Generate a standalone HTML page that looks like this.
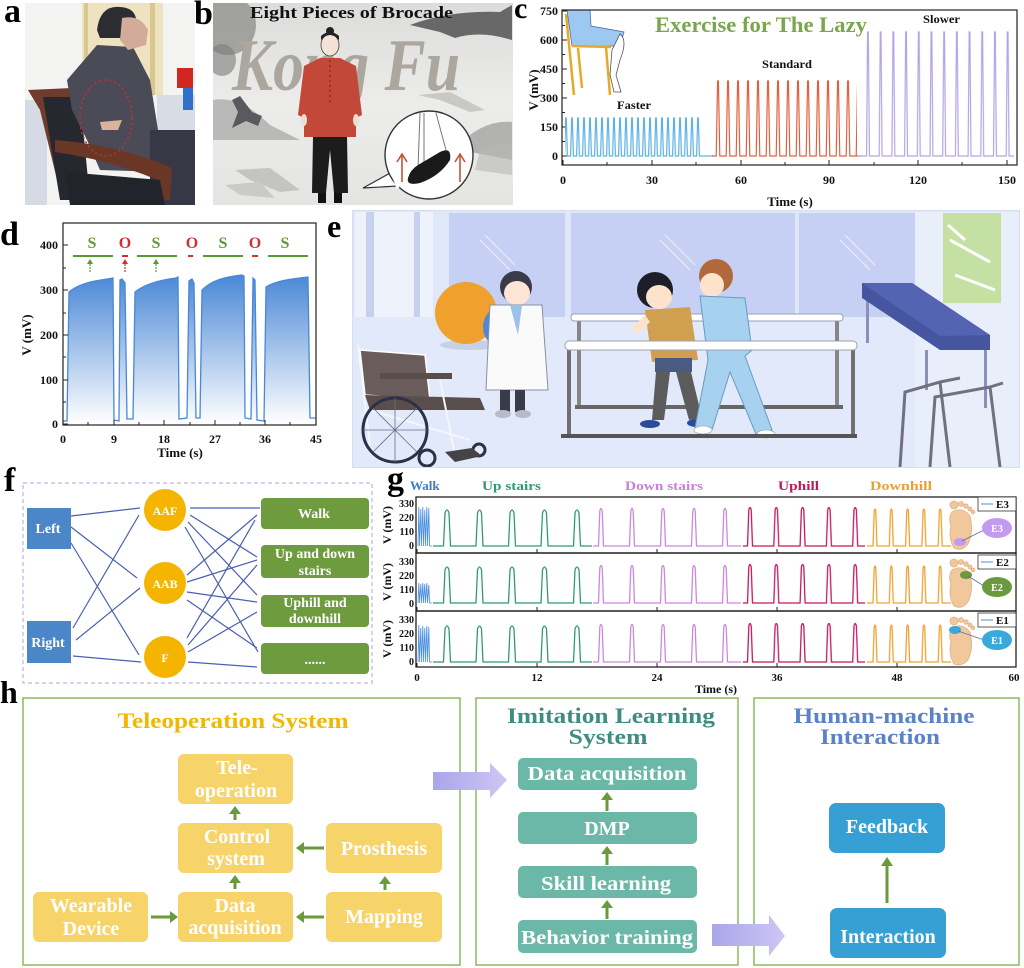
<!DOCTYPE html>
<html><head><meta charset="utf-8"><style>
html,body{margin:0;padding:0;background:#fff;}
svg{display:block;}
text{font-family:"Liberation Serif","DejaVu Serif",serif;font-weight:bold;}
</style></head><body>
<svg width="1024" height="968" viewBox="0 0 1024 968" xmlns="http://www.w3.org/2000/svg">
<defs>
<clipPath id="ca"><rect x="25" y="3" width="170" height="202"/></clipPath>
<clipPath id="cb"><rect x="213" y="3" width="300" height="202"/></clipPath>
<clipPath id="ce"><rect x="352" y="210" width="668" height="258"/></clipPath>
<linearGradient id="gd" x1="0" y1="275" x2="0" y2="424" gradientUnits="userSpaceOnUse"><stop offset="0" stop-color="#4a88d6"/><stop offset="1" stop-color="#ffffff"/></linearGradient>
<linearGradient id="lav" x1="0" y1="0" x2="1" y2="0"><stop offset="0" stop-color="#a9a6ea"/><stop offset="1" stop-color="#cfc6f4"/></linearGradient>
<linearGradient id="bbg" x1="0" y1="0" x2="0" y2="1"><stop offset="0" stop-color="#dcdcda"/><stop offset="0.5" stop-color="#ececea"/><stop offset="1" stop-color="#e4e4e2"/></linearGradient>
<pattern id="pf" patternUnits="userSpaceOnUse" x="569" y="0" width="6" height="200"><path d="M0,156 L1.6,156 L2.7,118 L3.3,118 L4.4,156 L6,156" fill="none" stroke="#5ab2e8" stroke-width="1.2"/></pattern>
<pattern id="ps" patternUnits="userSpaceOnUse" x="713" y="0" width="10" height="200"><path d="M0,156 L3.2,156 L4.6,81 L5.4,81 L6.8,156 L10,156" fill="none" stroke="#e2603e" stroke-width="1.2"/></pattern>
<pattern id="pl" patternUnits="userSpaceOnUse" x="861.6" y="0" width="12.7" height="200"><path d="M0,156 L4.9,156 L6,32 L6.7,32 L7.8,156 L12.7,156" fill="none" stroke="#b4a4e6" stroke-width="1.2"/></pattern>
<pattern id="gup" patternUnits="userSpaceOnUse" x="436.5" y="0" width="32.5" height="46"><path d="M0,42 L7,42 L8.5,9 Q10.5,3 12.5,9 L14,42 L32.5,42" fill="none" stroke="#2f9a76" stroke-width="1.3"/></pattern>
<pattern id="gdown" patternUnits="userSpaceOnUse" x="592.5" y="0" width="31" height="46"><path d="M0,42 L6,42 L7.3,7 Q8.5,2 9.7,7 L11,42 L31,42" fill="none" stroke="#cc88dc" stroke-width="1.3"/></pattern>
<pattern id="guph" patternUnits="userSpaceOnUse" x="741.5" y="0" width="26.3" height="46"><path d="M0,42 L6,42 L7.3,6 Q8.5,1 9.7,6 L11,42 L26.3,42" fill="none" stroke="#c4185c" stroke-width="1.3"/></pattern>
<pattern id="gdnh" patternUnits="userSpaceOnUse" x="868" y="0" width="16.3" height="46"><path d="M0,42 L5,42 L6.2,7 Q7,3 7.8,7 L9,42 L16.3,42" fill="none" stroke="#f0a232" stroke-width="1.3"/></pattern>
</defs>
<rect width="1024" height="968" fill="#fff"/>

<!-- panel labels -->
<text x="4" y="22" font-size="34">a</text>
<text x="194" y="24" font-size="34">b</text>
<text x="514" y="18" font-size="30">c</text>
<text x="0" y="245" font-size="34">d</text>
<text x="327" y="237" font-size="32">e</text>
<text x="4" y="491" font-size="34">f</text>
<text x="387" y="490" font-size="34">g</text>
<text x="0" y="703" font-size="32">h</text>

<!-- PANEL A photo -->
<g clip-path="url(#ca)">
<rect x="25" y="3" width="170" height="202" fill="#f3f3f2"/>
<rect x="25" y="100" width="22" height="105" fill="#d6dae4"/>
<rect x="82" y="3" width="81" height="92" fill="#eee3c0"/>
<rect x="84" y="3" width="4" height="92" fill="#d8c890"/>
<rect x="150" y="3" width="5" height="92" fill="#d8c890"/>
<rect x="157" y="95" width="38" height="40" fill="#d8dce4"/>
<rect x="177" y="68" width="16" height="20" fill="#d02820"/>
<rect x="183" y="88" width="10" height="22" fill="#3070c8"/>
<path d="M28,90 L72,88 L85,96 L80,200 L62,200 L40,110 Z" fill="#6e3b2c"/>
<path d="M43,97 L80,97 L90,200 L60,200 Z" fill="#262830"/>
<path d="M133,47 L97,45 L67,80 L72,110 L87,140 L100,170 L160,172 L158,130 L150,80 Z" fill="#4a4b57"/>
<path d="M150,130 L195,130 L195,205 L150,205 Z" fill="#363845"/>
<path d="M97,30 Q100,5 120,7 Q138,8 136,25 L125,38 L100,38 Z" fill="#2c2c32"/>
<path d="M122,18 Q140,14 148,30 L146,45 L128,50 L120,40 Z" fill="#d2ab9a"/>
<path d="M100,122 L122,120 L118,130 L102,130 Z" fill="#d8b49a"/>
<path d="M55,140 Q120,145 172,168 L170,200 L160,200 L158,180 Q110,160 55,152 Z" fill="#6a3626"/>
<path d="M65,172 L160,180 L165,205 L70,205 Z" fill="#22242c"/>
<ellipse cx="106" cy="118" rx="26" ry="38" fill="none" stroke="#c83030" stroke-width="1.5" stroke-dasharray="2,3"/>
</g>

<!-- PANEL B -->
<g clip-path="url(#cb)">
<rect x="213" y="3" width="300" height="202" fill="url(#bbg)"/>
<ellipse cx="228" cy="25" rx="28" ry="30" fill="#8c8c8a" opacity="0.75"/>
<ellipse cx="222" cy="60" rx="14" ry="16" fill="#7c7c7a" opacity="0.6"/>
<path d="M213,100 Q240,95 270,125 L300,140 L213,140 Z" fill="#a4a4a2" opacity="0.7"/>
<path d="M232,100 L240,96 L246,104 L252,112 L262,116 L258,126 L246,121 L232,128 L238,112 Z" fill="#5a5a5e"/>
<path d="M410,25 Q450,10 500,12 L512,5 L512,40 Q480,30 455,38 L440,32 Z" fill="#4a4a4a" opacity="0.8"/>
<path d="M470,135 Q490,120 512,122 L512,160 L460,150 Z" fill="#9a9a98" opacity="0.7"/>
<path d="M480,150 Q500,140 512,145 L512,175 L475,170 Z" fill="#b8b8b6" opacity="0.6"/>
<path d="M418,95 L450,92 L485,110 L470,112 L440,100 Z" fill="#c8c8c6"/>
<path d="M235,170 L270,168 L300,190 L280,192 L250,180 Z" fill="#c4c4c2"/>
<path d="M225,185 L260,182 L275,198 L240,195 Z" fill="#cacac8"/>
<text x="232" y="90" font-size="74" font-style="italic" fill="#aba79f" textLength="228" lengthAdjust="spacingAndGlyphs">Kong Fu</text>
<text x="250" y="18" font-size="17" fill="#111" textLength="203" lengthAdjust="spacingAndGlyphs">Eight Pieces of Brocade</text>
<!-- figure -->
<circle cx="330" cy="31" r="4" fill="#222"/>
<ellipse cx="330" cy="45" rx="9" ry="11" fill="#f3e3d6" stroke="#444" stroke-width="0.8"/>
<path d="M321,40 Q330,30 339,40 L339,36 Q330,28 321,36 Z" fill="#222"/>
<path d="M320,58 L340,58 L356,66 L362,115 L356,118 L356,137 L304,137 L304,118 L298,115 L304,66 Z" fill="#c2493a"/>
<line x1="330" y1="60" x2="330" y2="105" stroke="#6a2018" stroke-width="1" stroke-dasharray="2,3"/>
<path d="M313,137 L347,137 L348,193 L334,193 L330,150 L326,193 L312,193 Z" fill="#1c1c1c"/>
<rect x="318" y="193" width="8" height="10" fill="#111"/>
<rect x="334" y="193" width="8" height="10" fill="#111"/>
<ellipse cx="304" cy="120" rx="3" ry="6" fill="#f0dcd0"/>
<ellipse cx="356" cy="120" rx="3" ry="6" fill="#f0dcd0"/>
<!-- inset -->
<path d="M363,188 L392,172 L398,186 Z" fill="#fff" stroke="#333" stroke-width="1.2"/>
<circle cx="429" cy="155" r="44" fill="#fff" stroke="#333" stroke-width="1.4"/>
<path d="M398,188 L392,172" stroke="#fff" stroke-width="3"/>
<path d="M424,113 L424,165 M436,113 L446,150 M420,113 L418,168" stroke="#777" stroke-width="1" fill="none"/>
<path d="M418,165 L440,152 Q452,146 450,160 Q440,176 420,183 Q406,186 408,178 Q410,170 418,165 Z" fill="#1a1a1a"/>
<path d="M402,182 L402,155 M397,162 L402,154 L407,162" stroke="#c8503c" stroke-width="1.6" fill="none"/>
<path d="M460,182 L460,155 M455,162 L460,154 L465,162" stroke="#c8503c" stroke-width="1.6" fill="none"/>
</g>

<!-- PANEL C -->
<g>
<path d="M567,10 L590,10 L591,26 L624,32 L620,46 L572,46 Z" fill="#9cc8f2" stroke="#4a70a0" stroke-width="0.8"/>
<path d="M620,34 Q628,40 620,60 L616,75 L621,92 L614,92 L610,75 L612,50 Z" fill="#fff" stroke="#555" stroke-width="0.8"/>
<path d="M566,14 L574,95 M572,46 L611,47 M606,47 L610,95 M578,48 L582,88" stroke="#e6a92a" stroke-width="2.5" fill="none"/>
<rect x="562" y="10" width="455" height="155" fill="none" stroke="#222" stroke-width="1.2"/>
<g stroke="#222" stroke-width="1">
<path d="M562,11 h5 M562,40 h5 M562,69 h5 M562,98 h5 M562,127 h5 M562,156 h5 M562,25.5 h3 M562,54.5 h3 M562,83.5 h3 M562,112.5 h3 M562,141.5 h3"/>
<path d="M563,165 v-5 M652,165 v-5 M741,165 v-5 M829,165 v-5 M918,165 v-5 M1007,165 v-5 M607,165 v-3 M696,165 v-3 M785,165 v-3 M874,165 v-3 M962,165 v-3"/>
</g>
<g font-size="12" text-anchor="end" fill="#111">
<text x="558" y="15">750</text><text x="558" y="44">600</text><text x="558" y="73">450</text><text x="558" y="102">300</text><text x="558" y="131">150</text><text x="558" y="160">0</text>
</g>
<text transform="translate(538,90) rotate(-90)" font-size="13" text-anchor="middle" fill="#111">V (mV)</text>
<g font-size="12" text-anchor="middle" fill="#111">
<text x="563" y="184">0</text><text x="652" y="184">30</text><text x="741" y="184">60</text><text x="829" y="184">90</text><text x="918" y="184">120</text><text x="1007" y="184">150</text>
</g>
<text x="790" y="206" font-size="13" text-anchor="middle" fill="#111">Time (s)</text>
<rect x="565" y="110" width="137" height="50" fill="url(#pf)"/>
<path d="M702,156 L713,156" stroke="#5ab2e8" stroke-width="1.2"/>
<rect x="712" y="75" width="145" height="85" fill="url(#ps)"/>
<path d="M856,156 L862,156" stroke="#e2603e" stroke-width="1.2"/>
<rect x="858" y="25" width="156" height="135" fill="url(#pl)"/>
<text x="655" y="32" font-size="22" fill="#7aa64e" textLength="212" lengthAdjust="spacingAndGlyphs">Exercise for The Lazy</text>
<text x="762" y="68" font-size="12" fill="#111" textLength="50" lengthAdjust="spacingAndGlyphs">Standard</text>
<text x="617" y="109" font-size="12" fill="#111" textLength="34" lengthAdjust="spacingAndGlyphs">Faster</text>
<text x="923" y="23" font-size="12" fill="#111" textLength="37" lengthAdjust="spacingAndGlyphs">Slower</text>
</g>

<!-- PANEL D -->
<g>
<path d="M63,424 L63,421 L67,421 L69,292 C75,287 85,283 95,281 L113,278 L114,420 L119,421 L120,280 L122,279 L125,283 L127,419 L133,419 L135,292 C145,284 160,280 176,278 L178,277 L179,419 L187,418 L189,281 L192,279 L194,283 L196,418 L200,418 L202,290 C212,280 225,277 242,275 L244,276 L245,418 L251,419 L253,278 L255,280 L257,420 L264,421 L266,287 C275,281 290,279 308,277 L310,418 L316,418 L316,424 Z" fill="url(#gd)"/>
<path d="M63,421 L67,421 L69,292 C75,287 85,283 95,281 L113,278 L114,420 L119,421 L120,280 L122,279 L125,283 L127,419 L133,419 L135,292 C145,284 160,280 176,278 L178,277 L179,419 L187,418 L189,281 L192,279 L194,283 L196,418 L200,418 L202,290 C212,280 225,277 242,275 L244,276 L245,418 L251,419 L253,278 L255,280 L257,420 L264,421 L266,287 C275,281 290,279 308,277 L310,418 L316,418" fill="none" stroke="#4a88d6" stroke-width="1.3"/>
<rect x="63" y="223" width="253" height="202" fill="none" stroke="#222" stroke-width="1.2"/>
<g stroke="#222" stroke-width="1">
<path d="M63,245 h5 M63,290 h5 M63,335 h5 M63,380 h5 M63,424 h5 M63,268 h3 M63,313 h3 M63,357 h3 M63,402 h3"/>
<path d="M63,425 v-5 M114,425 v-5 M164,425 v-5 M215,425 v-5 M265,425 v-5 M316,425 v-5 M88,425 v-3 M139,425 v-3 M190,425 v-3 M240,425 v-3 M290,425 v-3"/>
</g>
<g font-size="12" text-anchor="end" fill="#111">
<text x="58" y="249">400</text><text x="58" y="294">300</text><text x="58" y="339">200</text><text x="58" y="384">100</text><text x="58" y="428">0</text>
</g>
<text transform="translate(31,335) rotate(-90)" font-size="13" text-anchor="middle" fill="#111">V (mV)</text>
<g font-size="12" text-anchor="middle" fill="#111">
<text x="63" y="443">0</text><text x="114" y="443">9</text><text x="164" y="443">18</text><text x="215" y="443">27</text><text x="265" y="443">36</text><text x="316" y="443">45</text>
</g>
<text x="180" y="457" font-size="13" text-anchor="middle" fill="#111">Time (s)</text>
<g font-size="16" text-anchor="middle">
<text x="92" y="248" fill="#5a9a30">S</text><text x="125" y="248" fill="#d03030">O</text><text x="156" y="248" fill="#5a9a30">S</text><text x="192" y="248" fill="#d03030">O</text><text x="223" y="248" fill="#5a9a30">S</text><text x="255" y="248" fill="#d03030">O</text><text x="285" y="248" fill="#5a9a30">S</text>
</g>
<g stroke-width="2">
<path d="M73,256 H113 M137,256 H177 M203,256 H243 M268,256 H308" stroke="#5a9a30"/>
<path d="M122,256 H128 M188,256 H193 M252,256 H258" stroke="#d03030"/>
</g>
<path d="M90,272 V262" stroke="#5a9a30" stroke-width="1.2" stroke-dasharray="2,1"/><path d="M87,264 L90,259 L93,264 Z" fill="#5a9a30"/>
<path d="M125,272 V262" stroke="#d03030" stroke-width="1.2" stroke-dasharray="2,1"/><path d="M122,264 L125,259 L128,264 Z" fill="#d03030"/>
<path d="M156,272 V262" stroke="#5a9a30" stroke-width="1.2" stroke-dasharray="2,1"/><path d="M153,264 L156,259 L159,264 Z" fill="#5a9a30"/>
</g>

<!-- PANEL E -->
<g clip-path="url(#ce)">
<rect x="352" y="210" width="668" height="258" fill="#dfe7f8"/>
<rect x="355" y="212" width="78" height="190" fill="#eef2fb"/>
<rect x="366" y="212" width="8" height="175" fill="#c6d1f0"/>
<rect x="414" y="212" width="6" height="165" fill="#c6d1f0"/>
<rect x="449" y="213" width="116" height="104" fill="#c6cff4"/>
<rect x="571" y="213" width="224" height="104" fill="#c6cff4"/>
<rect x="799" y="213" width="116" height="104" fill="#c6cff4"/>
<path d="M480,240 L510,270 M485,235 L515,265 M660,240 L690,270 M665,235 L695,265 M840,240 L870,270 M845,235 L875,265" stroke="#eef1fc" stroke-width="1"/>
<rect x="915" y="212" width="105" height="256" fill="#e9eefb"/>
<rect x="943" y="213" width="58" height="90" fill="#c4e0a2"/>
<path d="M950,240 L990,262 M948,225 L965,240 M955,275 L995,290" stroke="#fff" stroke-width="3"/>
<rect x="352" y="317" width="563" height="151" fill="#e1e9fa"/>
<ellipse cx="470" cy="345" rx="30" ry="5" fill="#c8d0e6"/>
<circle cx="466" cy="313" r="31" fill="#f0a02c"/>
<circle cx="505" cy="327" r="22" fill="#4a8ad8"/>
<circle cx="516" cy="287" r="16" fill="#3a3a4a"/>
<ellipse cx="517" cy="293" rx="13" ry="12" fill="#fde6d6"/>
<path d="M490,305 L542,305 L548,390 L486,390 Z" fill="#fafafa" stroke="#8a90a0" stroke-width="1"/>
<path d="M510,305 L522,305 L518,335 Z" fill="#9cc2ea"/>
<rect x="500" y="390" width="10" height="22" fill="#3a3a48"/>
<rect x="515" y="390" width="10" height="22" fill="#3a3a48"/>
<ellipse cx="503" cy="414" rx="8" ry="4" fill="#b8bcc8"/>
<ellipse cx="523" cy="414" rx="8" ry="4" fill="#b8bcc8"/>
<path d="M360,350 L425,355 L430,400 L365,395 Z" fill="#6a5c5a" stroke="#fff" stroke-width="1.5"/>
<path d="M365,395 L480,398 L485,410 L370,410 Z" fill="#5a4e4c"/>
<rect x="380" y="373" width="72" height="6" fill="#5a4e4c"/>
<path d="M358,345 L370,445 M440,380 L455,455 M370,410 L470,440" stroke="#f4f6fb" stroke-width="2" fill="none"/>
<circle cx="395" cy="430" r="32" fill="none" stroke="#2c3048" stroke-width="3"/>
<path d="M395,398 V462 M363,430 H427 M373,408 L417,452 M417,408 L373,452" stroke="#6a6e88" stroke-width="0.8"/>
<circle cx="427" cy="458" r="8" fill="none" stroke="#2c3048" stroke-width="3"/>
<circle cx="479" cy="450" r="6" fill="none" stroke="#2c3048" stroke-width="3"/>
<path d="M445,452 L472,448 L482,456 L455,462 Z" fill="#444"/>
<rect x="577" y="320" width="4" height="88" fill="#858585"/>
<rect x="835" y="320" width="4" height="88" fill="#858585"/>
<rect x="575" y="405" width="268" height="4" fill="#666"/>
<rect x="571" y="314" width="272" height="7" rx="3" fill="#fff" stroke="#9aa0b0" stroke-width="1"/>
<circle cx="655" cy="290" r="18" fill="#1e1e28"/>
<ellipse cx="659" cy="297" rx="13" ry="12" fill="#fde2cc"/>
<path d="M645,310 L690,307 L698,360 L652,362 Z" fill="#d0a050"/>
<path d="M645,315 L630,330 L638,334 L650,322 Z" fill="#fde2cc"/>
<rect x="655" y="358" width="37" height="14" fill="#4a5a80"/>
<path d="M656,372 L670,372 L664,420 L652,420 Z" fill="#5c5c5c"/>
<path d="M676,372 L691,372 L702,418 L689,420 Z" fill="#5c5c5c"/>
<ellipse cx="650" cy="424" rx="10" ry="4" fill="#2a4a9a"/>
<ellipse cx="697" cy="423" rx="10" ry="4" fill="#2a4a9a"/>
<circle cx="716" cy="276" r="17" fill="#b0683c"/>
<ellipse cx="712" cy="285" rx="12" ry="12" fill="#fde2cc"/>
<path d="M700,296 L745,298 L752,350 L745,356 L772,430 L756,434 L730,372 L712,430 L695,428 L708,360 Z" fill="#a6d2f0" stroke="#6a9ac0" stroke-width="1"/>
<ellipse cx="703" cy="430" rx="9" ry="4" fill="#fff" stroke="#999" stroke-width="0.6"/>
<ellipse cx="766" cy="434" rx="9" ry="4" fill="#fff" stroke="#999" stroke-width="0.6"/>
<rect x="567" y="348" width="4" height="88" fill="#707070"/>
<rect x="851" y="348" width="4" height="88" fill="#707070"/>
<rect x="561" y="434" width="296" height="4" fill="#555"/>
<rect x="565" y="341" width="292" height="9" rx="4" fill="#fff" stroke="#9aa0b0" stroke-width="1"/>
<rect x="866" y="298" width="3" height="45" fill="#8a90b8"/>
<rect x="925" y="350" width="3" height="40" fill="#8a90b8"/>
<rect x="984" y="350" width="3" height="58" fill="#8a90b8"/>
<path d="M862,283 L912,283 L990,335 L990,350 L940,350 L862,298 Z" fill="#46559f"/>
<path d="M862,283 L912,283 L990,335 L940,336 Z" fill="#5464b2"/>
<path d="M900,467 L905,392 L940,382 L950,467 M930,467 L935,397 L990,387 L1000,467 M940,382 L960,378 M990,387 L1003,383" stroke="#70707e" stroke-width="3" fill="none"/>
</g>
<rect x="352.5" y="210.5" width="667" height="257" fill="none" stroke="#d6def2" stroke-width="1"/>

<!-- PANEL F -->
<rect x="23" y="483" width="349" height="200" fill="none" stroke="#b0a0dc" stroke-width="1" stroke-dasharray="4,3"/>
<g stroke="#4a5fb0" stroke-width="1.2">
<path d="M71,516 L140,508 M71,527 L137,578 M71,543 L139,655 M73,628 L139,515 M76,640 L140,588 M73,656 L141,662"/>
<path d="M190,508 L260,508 M190,515 L257,557 M188,522 L257,595 M185,527 L258,652"/>
<path d="M187,575 L257,515 M187,582 L257,560 M187,592 L257,602 M187,600 L257,648"/>
<path d="M187,638 L255,520 M188,645 L257,565 M188,652 L257,612 M188,662 L257,667"/>
</g>
<rect x="27" y="508" width="44" height="41" fill="#4a86c8"/>
<rect x="27" y="621" width="44" height="42" fill="#4a86c8"/>
<circle cx="165" cy="510" r="21" fill="#f5b400"/>
<circle cx="165" cy="583" r="21" fill="#f5b400"/>
<circle cx="165" cy="657" r="21" fill="#f5b400"/>
<rect x="261" y="498" width="108" height="31" rx="4" fill="#6f9b3f"/>
<rect x="261" y="545" width="108" height="33" rx="4" fill="#6f9b3f"/>
<rect x="261" y="595" width="108" height="32" rx="4" fill="#6f9b3f"/>
<rect x="261" y="643" width="108" height="31" rx="4" fill="#6f9b3f"/>
<g fill="#fff" font-size="14" text-anchor="middle">
<text x="48" y="533">Left</text>
<text x="48" y="647">Right</text>
<text x="165" y="515" font-size="12">AAF</text>
<text x="165" y="588" font-size="12">AAB</text>
<text x="165" y="662" font-size="12">F</text>
<text x="314" y="518">Walk</text>
<text x="315" y="558">Up and down</text>
<text x="315" y="575">stairs</text>
<text x="315" y="607">Uphill and</text>
<text x="315" y="623">downhill</text>
<text x="315" y="664">......</text>
</g>

<!-- PANEL G -->
<g font-size="13">
<text x="410" y="490" fill="#3a7cc8">Walk</text>
<text x="482" y="490" fill="#2e9a6e" textLength="59" lengthAdjust="spacingAndGlyphs">Up stairs</text>
<text x="625" y="490" fill="#c483d8" textLength="78" lengthAdjust="spacingAndGlyphs">Down stairs</text>
<text x="778" y="490" fill="#c0185a" textLength="41" lengthAdjust="spacingAndGlyphs">Uphill</text>
<text x="870" y="490" fill="#eaa032" textLength="62" lengthAdjust="spacingAndGlyphs">Downhill</text>
</g>
<g transform="translate(0,504)">
<path d="M418,42 L418.8,3 L419.6,42 L420.8,5 L421.6,42 L422.8,3 L423.6,42 L424.8,6 L425.6,42 L426.8,3 L427.6,42 L428.8,4 L429.6,42 L432,42" fill="none" stroke="#4a8ee0" stroke-width="0.8"/>
<rect x="433" y="0" width="159" height="45" fill="url(#gup)"/>
<rect x="593" y="0" width="148" height="45" fill="url(#gdown)"/>
<rect x="743" y="0" width="122" height="45" fill="url(#guph)"/>
<rect x="867" y="0" width="84" height="45" fill="url(#gdnh)"/>
</g>
<g transform="translate(0,561)">
<path d="M418,42 L418.8,22 L419.6,42 L420.8,23 L421.6,42 L422.8,22 L423.6,42 L424.8,23 L425.6,42 L426.8,22 L427.6,42 L428.8,24 L429.6,42 L432,42" fill="none" stroke="#4a8ee0" stroke-width="0.8"/>
<rect x="433" y="0" width="159" height="45" fill="url(#gup)"/>
<rect x="593" y="0" width="148" height="45" fill="url(#gdown)"/>
<rect x="743" y="0" width="122" height="45" fill="url(#guph)"/>
<rect x="867" y="0" width="84" height="45" fill="url(#gdnh)"/>
</g>
<g transform="translate(0,620)">
<path d="M418,42 L418.8,5 L419.6,42 L420.8,8 L421.6,42 L422.8,6 L423.6,42 L424.8,8 L425.6,42 L426.8,6 L427.6,42 L428.8,7 L429.6,42 L432,42" fill="none" stroke="#4a8ee0" stroke-width="0.8"/>
<rect x="433" y="0" width="159" height="45" fill="url(#gup)"/>
<rect x="593" y="0" width="148" height="45" fill="url(#gdown)"/>
<rect x="743" y="0" width="122" height="45" fill="url(#guph)"/>
<rect x="867" y="0" width="84" height="45" fill="url(#gdnh)"/>
</g>
<g fill="none" stroke="#222" stroke-width="1.3">
<rect x="416" y="497" width="600" height="56"/>
<rect x="416" y="553" width="600" height="58"/>
<rect x="416" y="611" width="600" height="56"/>
</g>
<g stroke="#222" stroke-width="1">
<path d="M417,667 v-4 M537,667 v-4 M657,667 v-4 M777,667 v-4 M897,667 v-4 M417,553 v-4 M537,553 v-4 M657,553 v-4 M777,553 v-4 M897,553 v-4 M417,611 v-4 M537,611 v-4 M657,611 v-4 M777,611 v-4 M897,611 v-4"/>
</g>
<g font-size="10" text-anchor="end" fill="#111">
<text x="414" y="507">330</text><text x="414" y="521">220</text><text x="414" y="535">110</text><text x="414" y="549">0</text>
<text x="414" y="565">330</text><text x="414" y="579">220</text><text x="414" y="593">110</text><text x="414" y="607">0</text>
<text x="414" y="623">330</text><text x="414" y="637">220</text><text x="414" y="651">110</text><text x="414" y="665">0</text>
</g>
<g font-size="12" text-anchor="middle" fill="#111">
<text transform="translate(391,525) rotate(-90)">V (mV)</text>
<text transform="translate(391,582) rotate(-90)">V (mV)</text>
<text transform="translate(391,639) rotate(-90)">V (mV)</text>
</g>
<g font-size="11" text-anchor="middle" fill="#111">
<text x="417" y="681">0</text><text x="537" y="681">12</text><text x="657" y="681">24</text><text x="777" y="681">36</text><text x="897" y="681">48</text><text x="1014" y="681">60</text>
</g>
<text x="716" y="693" font-size="12" text-anchor="middle" fill="#111">Time (s)</text>
<g fill="#f0c89c" stroke="#e2b080" stroke-width="0.8">
<path d="M952,512 Q962,506 970,516 Q974,532 968,544 Q962,552 954,548 Q948,538 951,526 Q948,518 952,512 Z"/>
<circle cx="954" cy="505" r="4"/><circle cx="961" cy="504" r="2.5"/><circle cx="966" cy="506" r="2.2"/><circle cx="970" cy="509" r="2"/><circle cx="973" cy="512" r="1.8"/>
<path d="M952,570 Q962,564 970,574 Q974,590 968,602 Q962,610 954,606 Q948,596 951,584 Q948,576 952,570 Z"/>
<circle cx="954" cy="563" r="4"/><circle cx="961" cy="562" r="2.5"/><circle cx="966" cy="564" r="2.2"/><circle cx="970" cy="567" r="2"/><circle cx="973" cy="570" r="1.8"/>
<path d="M952,628 Q962,622 970,632 Q974,648 968,660 Q962,667 954,664 Q948,654 951,642 Q948,634 952,628 Z"/>
<circle cx="954" cy="621" r="4"/><circle cx="961" cy="620" r="2.5"/><circle cx="966" cy="622" r="2.2"/><circle cx="970" cy="625" r="2"/><circle cx="973" cy="628" r="1.8"/>
</g>
<ellipse cx="960" cy="542" rx="6" ry="4" fill="#c49af0"/>
<ellipse cx="966" cy="575" rx="6" ry="4" fill="#6a9a3c"/>
<ellipse cx="955" cy="630" rx="6" ry="4" fill="#3aa8d8"/>
<path d="M962,541 L984,530 M968,576 L984,586 M958,631 L984,640" stroke="#6070a0" stroke-width="0.8"/>
<ellipse cx="997" cy="528" rx="15" ry="10" fill="#c49af0"/>
<ellipse cx="997" cy="587" rx="15" ry="10" fill="#6a9a3c"/>
<ellipse cx="997" cy="640" rx="15" ry="10" fill="#3aa8d8"/>
<g font-size="10" fill="#fff" text-anchor="middle" font-weight="normal">
<text x="997" y="532">E3</text><text x="997" y="591">E2</text><text x="997" y="644">E1</text>
</g>
<g fill="#fff" stroke="#333" stroke-width="0.8">
<rect x="978" y="497" width="38" height="14"/>
<rect x="978" y="555" width="38" height="14"/>
<rect x="978" y="613" width="38" height="14"/>
</g>
<path d="M981,504 H993 M981,562 H993 M981,620 H993" stroke="#6aa8e0" stroke-width="1.2"/>
<g font-size="11" fill="#111">
<text x="996" y="508">E3</text><text x="996" y="566">E2</text><text x="996" y="624">E1</text>
</g>

<!-- PANEL H -->
<g fill="none" stroke="#8fb85e" stroke-width="1.5">
<rect x="23" y="698" width="437" height="267"/>
<rect x="476" y="698" width="262" height="267"/>
<rect x="754" y="698" width="265" height="267"/>
</g>
<text x="233" y="728" font-size="22" fill="#f0b800" text-anchor="middle" textLength="231" lengthAdjust="spacingAndGlyphs">Teleoperation System</text>
<text x="611" y="723" font-size="22" fill="#3f8c80" text-anchor="middle" textLength="208" lengthAdjust="spacingAndGlyphs">Imitation Learning</text>
<text x="608" y="744" font-size="22" fill="#3f8c80" text-anchor="middle" textLength="79" lengthAdjust="spacingAndGlyphs">System</text>
<text x="884" y="723" font-size="22" fill="#5a82c8" text-anchor="middle" textLength="181" lengthAdjust="spacingAndGlyphs">Human-machine</text>
<text x="880" y="744" font-size="22" fill="#5a82c8" text-anchor="middle" textLength="120" lengthAdjust="spacingAndGlyphs">Interaction</text>
<g fill="#f7d46a">
<rect x="178" y="754" width="115" height="50" rx="6"/>
<rect x="178" y="823" width="115" height="50" rx="6"/>
<rect x="178" y="892" width="115" height="50" rx="6"/>
<rect x="33" y="892" width="115" height="50" rx="6"/>
<rect x="326" y="823" width="116" height="50" rx="6"/>
<rect x="326" y="892" width="116" height="50" rx="6"/>
</g>
<g fill="#fff" font-size="20" text-anchor="middle">
<text x="237" y="774">Tele-</text>
<text x="236" y="797">operation</text>
<text x="237" y="843">Control</text>
<text x="236" y="865">system</text>
<text x="235" y="912">Data</text>
<text x="235" y="934">acquisition</text>
<text x="91" y="912">Wearable</text>
<text x="91" y="935">Device</text>
<text x="384" y="855">Prosthesis</text>
<text x="384" y="923">Mapping</text>
</g>
<g fill="#6cb8a8">
<rect x="518" y="758" width="179" height="32" rx="5"/>
<rect x="518" y="812" width="179" height="32" rx="5"/>
<rect x="518" y="866" width="179" height="32" rx="5"/>
<rect x="518" y="920" width="179" height="33" rx="5"/>
</g>
<g fill="#fff" font-size="20" text-anchor="middle">
<text x="607" y="780" textLength="159" lengthAdjust="spacingAndGlyphs">Data acquisition</text>
<text x="607" y="835">DMP</text>
<text x="606" y="890" textLength="130" lengthAdjust="spacingAndGlyphs">Skill learning</text>
<text x="607" y="944" textLength="172" lengthAdjust="spacingAndGlyphs">Behavior training</text>
</g>
<rect x="829" y="803" width="116" height="50" rx="7" fill="#36a0d4"/>
<rect x="830" y="908" width="116" height="50" rx="7" fill="#36a0d4"/>
<g fill="#fff" font-size="20" text-anchor="middle">
<text x="887" y="833">Feedback</text>
<text x="888" y="943">Interaction</text>
</g>
<g stroke="#6a9a3a" stroke-width="3" fill="none">
<path d="M235,820 V812 M235,889 V881 M151,917 H171 M324,917 H303 M324,848 H303 M385,890 V882 M607,811 V798 M607,865 V852 M607,919 V906 M887,903 V864"/>
</g>
<g fill="#6a9a3a">
<path d="M229,814 L241,814 L235,806 Z"/>
<path d="M229,883 L241,883 L235,875 Z"/>
<path d="M170,911 L170,923 L178,917 Z"/>
<path d="M304,911 L304,923 L296,917 Z"/>
<path d="M304,842 L304,854 L296,848 Z"/>
<path d="M379,884 L391,884 L385,876 Z"/>
<path d="M601,800 L613,800 L607,792 Z"/>
<path d="M601,854 L613,854 L607,846 Z"/>
<path d="M601,908 L613,908 L607,900 Z"/>
<path d="M881,866 L893,866 L887,857 Z"/>
</g>
<path d="M433,772 L490,772 L490,763 L507,780 L490,798 L490,790 L433,790 Z" fill="url(#lav)"/>
<path d="M712,924 L769,924 L769,915 L785,936 L769,956 L769,946 L712,946 Z" fill="url(#lav)"/>
</svg>
</body></html>
